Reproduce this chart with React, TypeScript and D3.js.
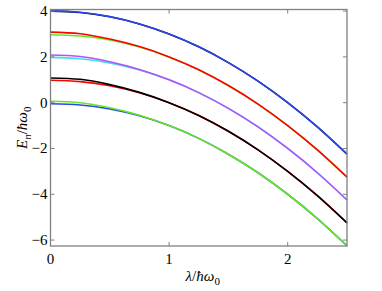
import React, { useEffect, useRef } from 'react';
import * as d3 from 'd3';

// lambda samples (x axis)
const lambdas = [0, 0.25, 0.5, 0.75, 1, 1.25, 1.5, 1.75, 2, 2.25, 2.5];

// first set of levels (drawn underneath)
const levelsA = [
  { color: '#2848f0', values: [-0.05, -0.1, -0.27, -0.57, -1.0, -1.56, -2.25, -3.06, -4.0, -5.06, -6.25] },
  { color: '#ff0000', values: [0.98, 0.92, 0.74, 0.43, 0.0, -0.56, -1.25, -2.06, -3.0, -4.06, -5.25] },
  { color: '#40e0e0', values: [1.98, 1.92, 1.74, 1.43, 1.0, 0.44, -0.25, -1.06, -2.0, -3.06, -4.25] },
  { color: '#66e820', values: [2.97, 2.91, 2.74, 2.43, 2.0, 1.44, 0.75, -0.06, -1.0, -2.06, -3.25] },
  { color: '#000000', values: [4.0, 3.94, 3.75, 3.44, 3.0, 2.44, 1.75, 0.94, 0.0, -1.06, -2.25] }
];

// second set of levels (drawn on top)
const levelsB = [
  { color: '#66e820', values: [0.06, 0.0, -0.22, -0.55, -1.0, -1.56, -2.25, -3.06, -4.0, -5.06, -6.25] },
  { color: '#000000', values: [1.08, 1.02, 0.79, 0.45, 0.0, -0.56, -1.25, -2.06, -3.0, -4.06, -5.25] },
  { color: '#b450ff', values: [2.08, 2.02, 1.79, 1.45, 1.0, 0.44, -0.25, -1.06, -2.0, -3.06, -4.25] },
  { color: '#ff0000', values: [3.08, 3.01, 2.78, 2.45, 2.0, 1.44, 0.75, -0.06, -1.0, -2.06, -3.25] },
  { color: '#2848f0', values: [4.01, 3.95, 3.76, 3.44, 3.0, 2.44, 1.75, 0.94, 0.0, -1.06, -2.25] }
];

const xTicks = [0, 1, 2];
const yTicks = [-6, -4, -2, 0, 2, 4];

const W = 382;
const H = 291;
const margin = { top: 9.5, right: 35, bottom: 45, left: 50.5 };

export default function App() {
  const ref = useRef<SVGSVGElement>(null);

  useEffect(() => {
    const svg = d3.select(ref.current);
    svg.selectAll('*').remove();

    const x = d3.scaleLinear().domain([0, 2.5]).range([margin.left, W - margin.right]);
    const y = d3.scaleLinear().domain([-6.26, 4.07]).range([H - margin.bottom, margin.top]);

    const line = d3.line<number>()
      .x((d, i) => x(lambdas[i]))
      .y((d) => y(d))
      .curve(d3.curveMonotoneX);

    const g = svg.append('g');
    [...levelsA, ...levelsB].forEach((lv) => {
      g.append('path')
        .attr('d', line(lv.values))
        .attr('fill', 'none')
        .attr('stroke', lv.color)
        .attr('stroke-width', 1.6);
    });

    // frame
    const frame = svg.append('g').attr('stroke', '#808080').attr('fill', 'none');
    frame.append('rect')
      .attr('x', x(0))
      .attr('y', y(4.07))
      .attr('width', x(2.5) - x(0))
      .attr('height', y(-6.26) - y(4.07))
      .attr('stroke-width', 1.3);

    // ticks inside the frame
    xTicks.forEach((t) => {
      frame.append('line').attr('x1', x(t)).attr('x2', x(t)).attr('y1', y(-6.26)).attr('y2', y(-6.26) - 4);
      frame.append('line').attr('x1', x(t)).attr('x2', x(t)).attr('y1', y(4.07)).attr('y2', y(4.07) + 4);
    });
    yTicks.forEach((t) => {
      frame.append('line').attr('x1', x(0)).attr('x2', x(0) + 4).attr('y1', y(t)).attr('y2', y(t));
      frame.append('line').attr('x1', x(2.5)).attr('x2', x(2.5) - 4).attr('y1', y(t)).attr('y2', y(t));
    });

    const font = "'Liberation Serif', 'Times New Roman', Times, 'DejaVu Serif', serif";
    svg.append('g')
      .selectAll('text')
      .data(xTicks)
      .enter()
      .append('text')
      .attr('x', (d) => x(d))
      .attr('y', y(-6.26) + 18)
      .attr('text-anchor', 'middle')
      .style('font-family', font)
      .style('font-size', '15px')
      .text((d) => d);

    svg.append('g')
      .selectAll('text')
      .data(yTicks)
      .enter()
      .append('text')
      .attr('x', x(0) - 3)
      .attr('y', (d) => y(d) + 5)
      .attr('text-anchor', 'end')
      .style('font-family', font)
      .style('font-size', '15px')
      .text((d) => (d < 0 ? '\u2212' + Math.abs(d) : d));

    // x label
    const xl = svg.append('text')
      .attr('x', (x(0) + x(2.5)) / 2 + 4)
      .attr('y', 281)
      .attr('text-anchor', 'middle')
      .style('font-family', font)
      .style('font-size', '15px');
    xl.append('tspan').style('font-style', 'italic').text('\u03bb');
    xl.append('tspan').text('/');
    xl.append('tspan').style('font-style', 'italic').text('\u0127\u03c9');
    xl.append('tspan').style('font-size', '11px').attr('dy', 4).text('0');

    // y label
    const yl = svg.append('text')
      .attr('transform', `translate(27, ${(y(4.07) + y(-6.26)) / 2}) rotate(-90)`)
      .attr('text-anchor', 'middle')
      .style('font-family', font)
      .style('font-size', '15px');
    yl.append('tspan').style('font-style', 'italic').text('E');
    yl.append('tspan').style('font-style', 'italic').style('font-size', '11px').attr('dy', 4).text('n');
    yl.append('tspan').attr('dy', -4).text('/');
    yl.append('tspan').style('font-style', 'italic').text('\u0127\u03c9');
    yl.append('tspan').style('font-size', '11px').attr('dy', 4).text('0');
  }, []);

  return (
    <svg
      ref={ref}
      width={W}
      height={H}
      style={{ position: 'absolute', left: 0, top: 0, background: '#fff' }}
    />
  );
}
